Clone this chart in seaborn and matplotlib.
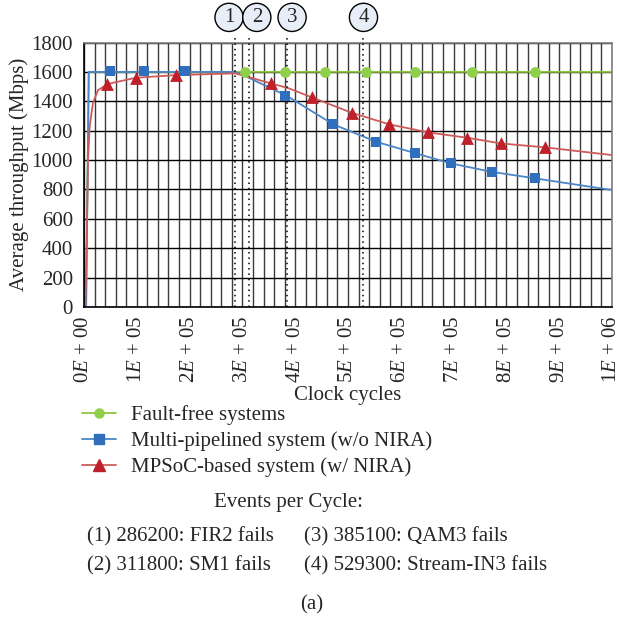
import numpy as np
import pandas as pd
import matplotlib
matplotlib.use("Agg")
import matplotlib.pyplot as plt
import matplotlib.transforms as mtransforms
from matplotlib.lines import Line2D
import seaborn as sns

# ---------------- data ----------------
fault_free_line_x = [4000, 9000, 1000000]
fault_free_line_y = [0, 1600, 1600]
fault_free_mark_x = [305000, 381000, 456000, 535000, 627000, 735000, 854000]
fault_free_mark_y = [1600, 1600, 1600, 1600, 1600, 1600, 1600]

multi_line_x = [4000, 9000, 286200, 308000, 385100, 472000, 553000, 626000, 695000, 772000, 855000, 1000000]
multi_line_y = [0, 1600, 1600, 1567, 1435, 1243, 1125, 1048, 977, 920, 875, 796]
multi_mark_x = [49000, 114000, 191000, 381000, 472000, 553000, 626000, 695000, 772000, 855000]
multi_mark_y = [1605, 1605, 1605, 1435, 1243, 1125, 1048, 977, 920, 875]

mpsoc_line_x = [2500, 4400, 6300, 7600, 10800, 17000, 26500, 45000, 98000, 174000, 286200,
                355000, 388000, 432000, 507000, 578000, 652000, 725000, 790000, 874000, 1000000]
mpsoc_line_y = [0, 320, 700, 1000, 1230, 1390, 1475, 1518, 1560, 1578, 1590,
                1521, 1488, 1426, 1322, 1243, 1188, 1152, 1113, 1086, 1034]
mpsoc_mark_x = [44000, 98000, 174000, 355000, 432000, 507000, 578000, 652000, 725000, 790000, 874000]
mpsoc_mark_y = [1515, 1558, 1578, 1521, 1426, 1322, 1243, 1188, 1152, 1113, 1086]

event_cycles = [286200, 311800, 385100, 529300]
event_ids = ["1", "2", "3", "4"]
event_texts = ["(1) 286200: FIR2 fails", "(2) 311800: SM1 fails",
               "(3) 385100: QAM3 fails", "(4) 529300: Stream-IN3 fails"]

series_names = ["Fault-free systems", "Multi-pipelined system (w/o NIRA)", "MPSoC-based system (w/ NIRA)"]

x_tick_values = [0, 100000, 200000, 300000, 400000, 500000, 600000, 700000, 800000, 900000, 1000000]
x_tick_labels = ["0E + 00", "1E + 05", "2E + 05", "3E + 05", "4E + 05", "5E + 05",
                 "6E + 05", "7E + 05", "8E + 05", "9E + 05", "1E + 06"]
y_tick_values = [0, 200, 400, 600, 800, 1000, 1200, 1400, 1600, 1800]

# ---------------- style ----------------
sns.set_theme(style="white")
plt.rcParams["font.family"] = ["Liberation Serif", "DejaVu Serif"]
plt.rcParams["mathtext.fontset"] = "custom"
plt.rcParams["mathtext.rm"] = "Liberation Serif"
plt.rcParams["mathtext.it"] = "Liberation Serif:italic"

FS = 15
green_line, green_mark = "#8cc63e", "#8fcf4a"
blue_line, blue_mark = "#4a86c8", "#2f6fbe"
red_line, red_mark = "#d05a5a", "#c0202a"

fig = plt.figure(figsize=(6.17, 6.19), dpi=100)
ax = fig.add_axes([84 / 617, 1 - 307 / 619, (612 - 84) / 617, (307 - 42.5) / 619])

# grid
ax.set_xlim(0, 1000000)
ax.set_ylim(0, 1800)
ax.set_xticks(np.arange(0, 1000001, 20000), minor=True)
ax.set_xticks(x_tick_values)
ax.set_yticks(y_tick_values)
ax.grid(True, which="both", axis="x", color="#3a3a3a", lw=1.0)
ax.grid(True, which="major", axis="y", color="#000000", lw=1.0)
ax.set_axisbelow(True)
ax.tick_params(which="both", length=0, labelsize=FS)
ax.tick_params(axis="y", pad=8)
ax.tick_params(axis="x", pad=6)
ax.set_xticklabels([t.replace("E", "$E$") for t in x_tick_labels], rotation=90, fontsize=FS)
ax.set_yticklabels([str(v) for v in y_tick_values], fontsize=FS)
for s in ["left", "bottom"]:
    ax.spines[s].set_color("black")
for s in ["top", "right"]:
    ax.spines[s].set_color("#7f7f7f")
for s in ax.spines.values():
    s.set_linewidth(1.2)

# lines
sns.lineplot(x=fault_free_line_x, y=fault_free_line_y, color=green_line, lw=1.3, ax=ax,
             estimator=None, sort=False)
sns.lineplot(x=multi_line_x, y=multi_line_y, color=blue_line, lw=1.3, ax=ax,
             estimator=None, sort=False)
sns.lineplot(x=mpsoc_line_x, y=mpsoc_line_y, color=red_line, lw=1.3, ax=ax,
             estimator=None, sort=False)

# markers
sns.scatterplot(x=fault_free_mark_x, y=fault_free_mark_y, color=green_mark, marker="o",
                s=60, linewidth=0, ax=ax, zorder=5)
sns.scatterplot(x=multi_mark_x, y=multi_mark_y, color=blue_mark, marker="s",
                s=62, linewidth=0, ax=ax, zorder=5)
sns.scatterplot(x=mpsoc_mark_x, y=mpsoc_mark_y, color=red_mark, marker="^",
                s=85, linewidth=0, ax=ax, zorder=5)

# event lines + circled labels
trans = mtransforms.blended_transform_factory(ax.transData, ax.transAxes)
circle_offsets = [-11500, 15500, 9000, 0]
for ev, lab, off in zip(event_cycles, event_ids, circle_offsets):
    ax.plot([ev, ev], [0, 1.03], transform=trans, color="black", lw=1.1,
            ls=(0, (1, 2.5)), clip_on=False, zorder=4)
    ax.text(ev + off, 1.095, lab, transform=trans, ha="center", va="center", fontsize=FS,
            bbox=dict(boxstyle="circle,pad=0.22", fc="#e8eef8", ec="black", lw=1.0),
            clip_on=False)

ax.set_xlabel("Clock cycles", fontsize=FS)
ax.xaxis.set_label_coords(0.5, (307 - 395) / 264.5)
ax.xaxis.label.set_va("center")
ax.set_ylabel("Average throughput (Mbps)", fontsize=FS)
ax.yaxis.set_label_coords((19 - 84) / 528, 0.5)
ax.yaxis.label.set_va("center")

# legend
handles = [
    Line2D([], [], color=green_line, marker="o", mfc=green_mark, mec=green_mark, ms=6.5, lw=1.3),
    Line2D([], [], color=blue_line, marker="s", mfc=blue_mark, mec=blue_mark, ms=6.5, lw=1.3),
    Line2D([], [], color=red_line, marker="^", mfc=red_mark, mec=red_mark, ms=8, lw=1.3),
]
fig.legend(handles, series_names, loc="upper left", bbox_to_anchor=(82 / 617, 1 - 405 / 619),
           frameon=False, fontsize=FS, handlelength=1.65, handletextpad=0.7,
           labelspacing=0.3, borderpad=0, borderaxespad=0)

fig.text(289 / 617, 1 - 503 / 619, "Events per Cycle:", ha="center", va="center", fontsize=FS)
fig.text(87 / 617, 1 - 537 / 619, event_texts[0], ha="left", va="center", fontsize=FS)
fig.text(87 / 617, 1 - 566 / 619, event_texts[1], ha="left", va="center", fontsize=FS)
fig.text(304 / 617, 1 - 537 / 619, event_texts[2], ha="left", va="center", fontsize=FS)
fig.text(304 / 617, 1 - 566 / 619, event_texts[3], ha="left", va="center", fontsize=FS)
fig.text(312 / 617, 1 - 605 / 619, "(a)", ha="center", va="center", fontsize=FS)

fig.savefig("out.png", dpi=100)
